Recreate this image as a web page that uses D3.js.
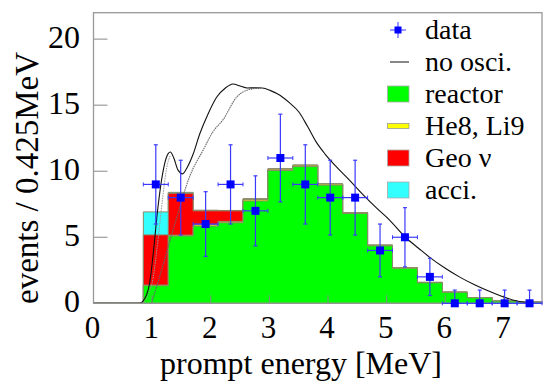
<!DOCTYPE html>
<html lang="en">
<head>
    <meta charset="UTF-8">
    <title>prompt energy spectrum</title>
    <script src="https://cdn.jsdelivr.net/npm/d3@7"></script>
    <style>
        body { margin: 0; background: #fff; }
        svg { display: block; font-family: "Liberation Serif", "DejaVu Serif", serif; }
    </style>
</head>
<body>
    <div id="chart"></div>
    <script>
        // bin low edges (0.425 MeV bins) and upper end of the last bin
        const binLow = [0.85, 1.275, 1.7, 2.125, 2.55, 2.975, 3.4, 3.825, 4.25, 4.675, 5.1, 5.525, 5.95, 6.375, 6.8, 7.225]
        const binEnd = 7.65

        // stacked expectation, events per bin
        const reactor = [1.33, 5.1, 5.85, 6.1, 7.75, 10.05, 10.35, 8.95, 6.8, 4.35, 2.65, 1.55, 0.83, 0.42, 0.17, 0.1]
        const heLi = [0.05, 0.06, 0.1, 0.1, 0.1, 0.1, 0.1, 0.08, 0.06, 0.05, 0.04, 0.03, 0.02, 0.01, 0.01, 0]
        const geo = [3.8, 3.17, 1.05, 0.8, 0.05, 0.02, 0, 0, 0, 0, 0, 0, 0, 0, 0, 0]
        const acci = [1.74, 0.07, 0.05, 0.03, 0.02, 0.02, 0.02, 0.02, 0.01, 0.01, 0.01, 0.01, 0, 0, 0, 0]

        // measured events and their errors
        const counts = [9, 8, 6, 9, 7, 11, 9, 8, 8, 4, 5, 2, 0, 0, 0, 0]
        const errs = [3.0, 2.83, 2.45, 3.0, 2.65, 3.32, 3.0, 2.83, 2.83, 2.0, 2.24, 1.41, 1.0, 1.0, 1.0, 1.0]

        // no oscillation curve [E, events]
        const noOsc = [[0, 0], [0.78, 0], [0.88, 0.4], [0.96, 1.6], [1.02, 3.8], [1.08, 6.5], [1.16, 9.3], [1.24, 11.0],
            [1.31, 11.45], [1.37, 11.0], [1.44, 10.1], [1.52, 9.8], [1.6, 10.3], [1.7, 11.3], [1.81, 12.8], [1.95, 14.3],
            [2.1, 15.6], [2.25, 16.3], [2.38, 16.6], [2.5, 16.45], [2.62, 16.3], [2.75, 16.32], [2.88, 16.3], [3.02, 16.1],
            [3.18, 15.75], [3.35, 15.15], [3.5, 14.5], [3.65, 13.4], [3.8, 12.2], [3.95, 11.3], [4.14, 10.35], [4.37, 9.3],
            [4.6, 8.2], [4.83, 7.2], [5.05, 6.3], [5.32, 5.0], [5.55, 4.15], [5.73, 3.5], [6.0, 2.65], [6.24, 2.0],
            [6.5, 1.4], [6.7, 1.0], [6.95, 0.55], [7.15, 0.25], [7.35, 0.07], [7.5, 0], [7.65, 0]]
        // smooth grey curve and the faint grey one under the low energy bump
        const greyCurve = [[0.99, 0], [1.16, 2.5], [1.42, 6.5], [1.64, 9.6], [1.87, 11.6], [2.04, 13.0], [2.21, 13.9],
            [2.44, 15.6], [2.67, 16.2], [2.85, 16.3]]
        const greyBump = [[0.83, 0], [0.93, 0.6], [1.02, 2.0], [1.1, 4.8], [1.18, 8.0], [1.25, 10.3], [1.31, 11.2]]

        const xTicks = [1, 2, 3, 4, 5, 6, 7]
        const xLabels = [0, 1, 2, 3, 4, 5, 6, 7]
        const yTicks = [0, 5, 10, 15, 20]

        const legendItems = [
            { label: 'data', kind: 'data' },
            { label: 'no osci.', kind: 'line' },
            { label: 'reactor', kind: 'box', color: '#00ff00' },
            { label: 'He8, Li9', kind: 'thin', color: '#ffff00' },
            { label: 'Geo \u03bd', kind: 'box', color: '#ff0000' },
            { label: 'acci.', kind: 'box', color: '#33ffff' }
        ]

        let w = 545
        let h = 388
        let frameL = 93.5, frameR = 542, frameT = 12.7, frameB = 303.3

        let svg = d3.select('#chart').append('svg')
            .attr('width', w)
            .attr('height', h)

        let xScale = d3.scaleLinear().domain([0, 7.65]).range([frameL, frameR])
        let yScale = d3.scaleLinear().domain([0, 22]).range([frameB, frameT])

        //stack the components
        let layer1 = reactor
        let layer2 = layer1.map((v, i) => v + heLi[i])
        let layer3 = layer2.map((v, i) => v + geo[i])
        let layer4 = layer3.map((v, i) => v + acci[i])

        let stepArea = d3.area()
            .x(d => xScale(d[0]))
            .y0(yScale(0))
            .y1(d => yScale(d[1]))
            .curve(d3.curveStepAfter)

        function stepPoints(tops) {
            let pts = [[0, 0]]
            binLow.forEach((b, i) => pts.push([b, tops[i]]))
            pts.push([binEnd, 0])
            return pts
        }

        let layers = [
            { tops: layer4, color: '#33ffff' },
            { tops: layer3, color: '#ff0000' },
            { tops: layer2, color: '#ffff00' },
            { tops: layer1, color: '#00ff00' }
        ]
        svg.append('g').selectAll('path')
            .data(layers)
            .enter()
            .append('path')
            .attr('d', d => stepArea(stepPoints(d.tops)))
            .attr('fill', d => d.color)
            .attr('stroke', '#8a8a6a')
            .attr('stroke-width', 1)

        //x ticks drawn inside
        svg.append('g').selectAll('line')
            .data(xTicks)
            .enter()
            .append('line')
            .attr('x1', d => xScale(d)).attr('x2', d => xScale(d))
            .attr('y1', frameB).attr('y2', frameB - 8)
            .attr('stroke', '#888')
            .attr('stroke-width', 1)

        //y ticks
        svg.append('g').selectAll('line')
            .data(yTicks)
            .enter()
            .append('line')
            .attr('x1', frameL).attr('x2', frameL + 14)
            .attr('y1', d => yScale(d)).attr('y2', d => yScale(d))
            .attr('stroke', '#888')
            .attr('stroke-width', 1)

        //curves
        let curve = d3.line()
            .x(d => xScale(d[0]))
            .y(d => yScale(d[1]))
            .curve(d3.curveMonotoneX)

        svg.append('path')
            .attr('d', curve(greyBump))
            .attr('fill', 'none')
            .attr('stroke', '#999')
            .attr('stroke-width', 1)
            .attr('stroke-dasharray', '1.5,1')
        svg.append('path')
            .attr('d', curve(greyCurve))
            .attr('fill', 'none')
            .attr('stroke', '#666')
            .attr('stroke-width', 1.1)
            .attr('stroke-dasharray', '1.5,0.8')
        svg.append('path')
            .attr('d', curve(noOsc))
            .attr('fill', 'none')
            .attr('stroke', '#111')
            .attr('stroke-width', 1.1)

        //frame
        svg.append('rect')
            .attr('x', frameL).attr('y', frameT)
            .attr('width', frameR - frameL).attr('height', frameB - frameT)
            .attr('fill', 'none')
            .attr('stroke', '#999')
            .attr('stroke-width', 1.3)

        //data points with error bars
        let pts = counts.map((c, i) => ({
            lo: binLow[i],
            hi: i + 1 < binLow.length ? binLow[i + 1] : binEnd,
            c: c,
            e: errs[i]
        }))
        let g = svg.append('g')
        pts.forEach(p => {
            let xc = xScale((p.lo + p.hi) / 2)
            let yc = yScale(p.c)
            let yTop = yScale(p.c + p.e)
            let yBot = yScale(Math.max(0, p.c - p.e))
            let col = '#3a3aff'
            g.append('line').attr('x1', xc).attr('x2', xc).attr('y1', yTop).attr('y2', yBot)
                .attr('stroke', col).attr('stroke-width', 1.2)
            g.append('line').attr('x1', xc - 2).attr('x2', xc + 2).attr('y1', yTop).attr('y2', yTop)
                .attr('stroke', col).attr('stroke-width', 1.2)
            if (p.c > 0) {
                g.append('line').attr('x1', xc - 2).attr('x2', xc + 2).attr('y1', yBot).attr('y2', yBot)
                    .attr('stroke', col).attr('stroke-width', 1.2)
            }
            g.append('line').attr('x1', xScale(p.lo)).attr('x2', xScale(p.hi)).attr('y1', yc).attr('y2', yc)
                .attr('stroke', col).attr('stroke-width', 1.2)
            g.append('line').attr('x1', xScale(p.lo)).attr('x2', xScale(p.lo)).attr('y1', yc - 2).attr('y2', yc + 2)
                .attr('stroke', col).attr('stroke-width', 1)
            g.append('line').attr('x1', xScale(p.hi)).attr('x2', xScale(p.hi)).attr('y1', yc - 2).attr('y2', yc + 2)
                .attr('stroke', col).attr('stroke-width', 1)
            g.append('rect').attr('x', xc - 4).attr('y', yc - 4).attr('width', 8).attr('height', 8)
                .attr('fill', '#0000ff')
        })

        //tick labels
        svg.append('g').selectAll('text')
            .data(xLabels)
            .enter()
            .append('text')
            .attr('x', d => xScale(d) - 1)
            .attr('y', 338)
            .attr('text-anchor', 'middle')
            .attr('font-size', 31)
            .text(d => d)

        svg.append('g').selectAll('text')
            .data(yTicks)
            .enter()
            .append('text')
            .attr('x', 80)
            .attr('y', d => yScale(d) + 9)
            .attr('text-anchor', 'end')
            .attr('font-size', 32)
            .text(d => d)

        //axis titles
        svg.append('text')
            .attr('x', 301).attr('y', 374)
            .attr('text-anchor', 'middle')
            .attr('font-size', 32)
            .text('prompt energy [MeV]')

        svg.append('text')
            .attr('transform', 'translate(38,178) rotate(-90)')
            .attr('text-anchor', 'middle')
            .attr('font-size', 33)
            .text('events / 0.425MeV')

        //legend
        let leg = svg.append('g')
        legendItems.forEach((d, i) => {
            let cy = 30 + i * 32
            let cx = 398
            if (d.kind === 'data') {
                leg.append('line').attr('x1', cx).attr('x2', cx).attr('y1', cy - 8).attr('y2', cy + 8)
                    .attr('stroke', '#5555ff').attr('stroke-width', 1.2)
                leg.append('line').attr('x1', cx - 8).attr('x2', cx + 8).attr('y1', cy).attr('y2', cy)
                    .attr('stroke', '#5555ff').attr('stroke-width', 1.2)
                leg.append('rect').attr('x', cx - 3.5).attr('y', cy - 3.5).attr('width', 7).attr('height', 7)
                    .attr('fill', '#0000ff')
            } else if (d.kind === 'line') {
                leg.append('line').attr('x1', cx - 8).attr('x2', cx + 11).attr('y1', cy).attr('y2', cy)
                    .attr('stroke', '#111').attr('stroke-width', 1)
            } else if (d.kind === 'thin') {
                leg.append('rect').attr('x', cx - 10.5).attr('y', cy - 2.5).attr('width', 21.5).attr('height', 5)
                    .attr('fill', d.color).attr('stroke', '#999').attr('stroke-width', 0.8)
            } else {
                leg.append('rect').attr('x', cx - 10.5).attr('y', cy - 8).attr('width', 21.5).attr('height', 16)
                    .attr('fill', d.color).attr('stroke', '#aaa').attr('stroke-width', 0.8)
            }
            leg.append('text')
                .attr('x', 425)
                .attr('y', cy + 9)
                .attr('font-size', 28)
                .text(d.label)
        })
    </script>
</body>
</html>
